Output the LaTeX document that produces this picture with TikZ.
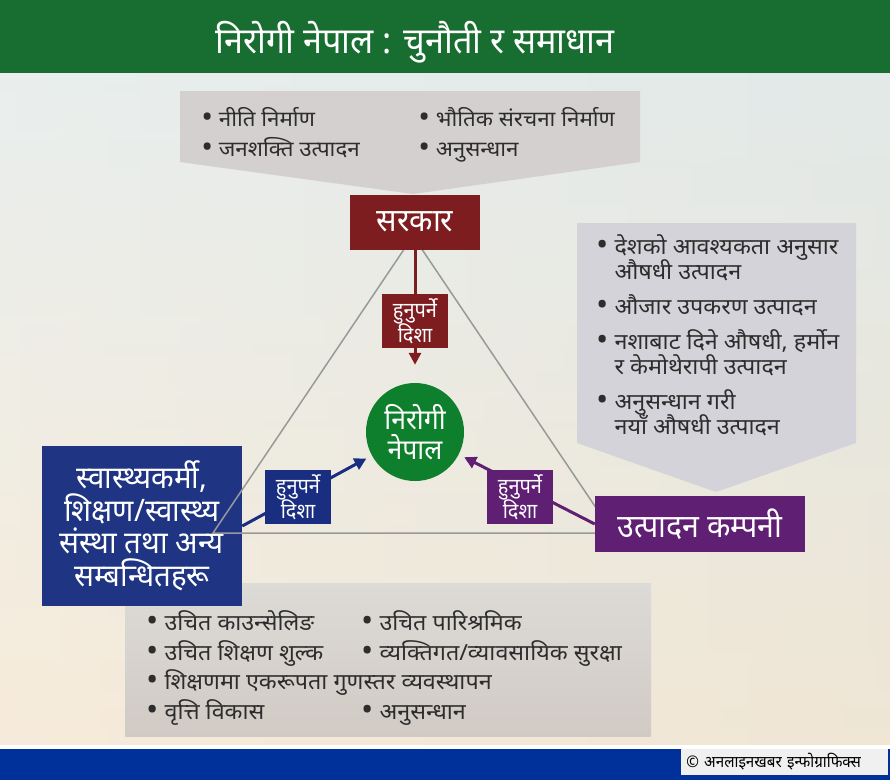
\documentclass[tikz,border=0pt]{standalone}
\usepackage{fontspec}
\usepackage{graphicx}
\setmainfont[Script=Devanagari,FakeStretch=0.95]{Noto Sans}
\newfontfamily\listfont[Script=Devanagari,FakeStretch=1.05]{Noto Sans}
\usetikzlibrary{positioning,arrows.meta}
\definecolor{bargreen}{RGB}{24,110,48}
\definecolor{govred}{RGB}{126,29,32}
\definecolor{nepgreen}{RGB}{14,127,44}
\definecolor{workblue}{RGB}{31,53,132}
\definecolor{worklabel}{RGB}{25,46,128}
\definecolor{firmpurple}{RGB}{95,31,115}
\definecolor{calloutgray}{RGB}{212,208,208}
\definecolor{calloutlilac}{RGB}{213,211,218}
\definecolor{basetop}{RGB}{221,219,215}
\definecolor{basebot}{RGB}{209,202,197}
\definecolor{footblue}{RGB}{0,48,154}
\definecolor{bgtop}{RGB}{226,233,232}
\definecolor{bgbot}{RGB}{244,229,206}
\definecolor{textgray}{RGB}{45,45,45}
\newcommand\bul{\raisebox{-1pt}{\scalebox{1.4}{•}}}
\newcommand\pnt[1]{\smash{\bul\ #1}}
\newcommand\pcont[1]{\smash{#1}}
\newcommand\tightlines{\lineskiplimit=-50pt\relax}
\tikzset{
every path/.style={line width=0.5pt}
, every node/.style={font=\fontsize{18}{22}\selectfont, inner sep=0}
, rolebox/.style={text=white, align=center, font=\fontsize{32}{33}\selectfont\tightlines}
, hintbox/.style={text=white, align=center, minimum width=66, minimum height=54, font=\fontsize{21}{25}\selectfont\tightlines}
, pointtext/.style={text=textgray, align=left, anchor=west}
, triline/.style={color=black!40, line width=1.5pt}
, hintline/.style={line width=3pt, -{Triangle[length=12pt,width=12pt]}}}

\begin{document}
\begin{tikzpicture}[x=1pt,y=-1pt]
\useasboundingbox (0,0) rectangle (890,780);
\shade[top color=bgtop, bottom color=bgbot] (0,73) rectangle (890,745);
\shade[left color=white, right color=bgtop, opacity=0.25] (0,73) rectangle (890,745);
\fill[bargreen] (0,0) rectangle (890,73);
\node[text=white, font=\fontsize{36}{40}\selectfont] (title) at (415,42) {निरोगी नेपाल : चुनौती र समाधान};
% callouts
\fill[calloutgray] (180,91) -- (640,91) -- (640,162) -- (413,194) -- (180,162) -- cycle;
\fill[calloutlilac] (577,223) -- (856,223) -- (856,443) -- (716,492) -- (577,443) -- cycle;
\shade[top color=basetop, bottom color=basebot] (125,583) rectangle (651,736);
\node[pointtext, font=\listfont\fontsize{21.3}{30}\selectfont] (govpts) at (201,135) {\begin{tabular}{@{}p{217pt}@{}l@{}}
\pnt{नीति निर्माण} & \pnt{भौतिक संरचना निर्माण}\\
\pnt{जनशक्ति उत्पादन} & \pnt{अनुसन्धान}\end{tabular}};
\node[pointtext, font=\listfont\fontsize{22.2}{25}\selectfont] (firmpts) at (596,339) {\begin{tabular}{@{}l@{}}
\pnt{देशको आवश्यकता अनुसार}\\
\pcont{\phantom{\bul\ }औषधी उत्पादन}\\[10pt]
\pnt{औजार उपकरण उत्पादन}\\[10pt]
\pnt{नशाबाट दिने औषधी, हर्मोन}\\
\pcont{\phantom{\bul\ }र केमोथेरापी उत्पादन}\\[10pt]
\pnt{अनुसन्धान गरी}\\
\pcont{\phantom{\bul\ }नयाँ औषधी उत्पादन}\end{tabular}};
\node[pointtext, font=\listfont\fontsize{22.2}{29.5}\selectfont] (workpts) at (146,669) {\begin{tabular}{@{}p{215pt}@{}l@{}}
\pnt{उचित काउन्सेलिङ} & \pnt{उचित पारिश्रमिक}\\
\pnt{उचित शिक्षण शुल्क} & \pnt{व्यक्तिगत/व्यावसायिक सुरक्षा}\\
\multicolumn{2}{@{}l@{}}{\pnt{शिक्षणमा एकरूपता गुणस्तर व्यवस्थापन}}\\
\pnt{वृत्ति विकास} & \pnt{अनुसन्धान}\end{tabular}};
% actors
\node[rolebox, fill=workblue, minimum width=200, minimum height=160, font=\fontsize{31}{32.5}\selectfont\tightlines] (karmi) at (142,526) {स्वास्थ्यकर्मी,\\शिक्षण/स्वास्थ्य\\संस्था तथा अन्य\\सम्बन्धितहरू};
\draw[triline] (413,236) -- (213,533) -- (613,533) -- cycle;
\node[rolebox, fill=govred, minimum width=130, minimum height=55] (sarkar) at (415,222) {सरकार};
\node[rolebox, fill=firmpurple, minimum width=210, minimum height=56] (company) at (700,524) {उत्पादन कम्पनी};
\node[rolebox, circle, fill=nepgreen, minimum size=98, font=\fontsize{28}{30}\selectfont\tightlines] (nirogi) at (415,432) {निरोगी\\नेपाल};
\draw[hintline, govred, shorten >=18] (sarkar) -- (nirogi);
\draw[hintline, worklabel, shorten >=6] (karmi.east) -- (nirogi);
\draw[hintline, firmpurple, shorten >=6] (company.west) -- (nirogi);
\node[hintbox, fill=govred] (dg) at (415,321) {हुनुपर्ने\\दिशा};
\node[hintbox, fill=worklabel] (dk) at (298,497) {हुनुपर्ने\\दिशा};
\node[hintbox, fill=firmpurple] (dc) at (520,497) {हुनुपर्ने\\दिशा};
% footer
\fill[white] (0,745) rectangle (890,749);
\fill[footblue] (0,749) rectangle (890,780);
\node[fill=white!94!black, anchor=west, inner xsep=5, text width=197, align=left, minimum height=26, font=\fontsize{16}{18}\selectfont] (credit) at (681,762) {© अनलाइनखबर इन्फोग्राफिक्स};
\end{tikzpicture}
\end{document}
